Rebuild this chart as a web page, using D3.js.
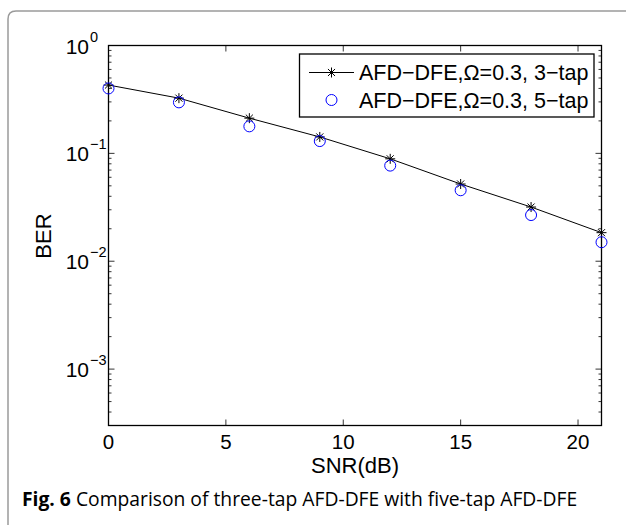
<!DOCTYPE html>
<html>
<head>
<meta charset="utf-8">
<script src="https://cdn.jsdelivr.net/npm/d3@7"></script>
<style>
  body { margin: 0; background: #fff; }
  svg text { font-family: "Liberation Sans", Arial, Helvetica, sans-serif; }
</style>
</head>
<body>
<svg id="fig" width="626" height="525"></svg>
<script>
// data
var snr = [0, 3, 6, 9, 12, 15, 18, 21];
var ber3tap = [0.43, 0.325, 0.212, 0.142, 0.089, 0.052, 0.0318, 0.0184];
var ber5tap = [0.40, 0.297, 0.178, 0.130, 0.077, 0.0455, 0.0268, 0.0150];
var xTicks = [0, 5, 10, 15, 20];
var yDecades = [-3, -2, -1, 0];
var legendLabels = ["AFD\u2212DFE,\u03A9=0.3, 3\u2212tap", "AFD\u2212DFE,\u03A9=0.3, 5\u2212tap"];

var svg = d3.select("#fig");

// outer frame of the figure panel
svg.append("path")
  .attr("d", "M8,530 L8,19 Q8,11 16,11 L640,11")
  .attr("fill", "none")
  .attr("stroke", "#9a9a9a")
  .attr("stroke-width", 1.5);

var pLeft = 108.5, pRight = 601.5, pTop = 45.5, pBottom = 425.5;

var x = d3.scaleLinear().domain([0, 21]).range([pLeft, pRight]);
var y = d3.scaleLog().domain([3e-4, 1]).range([pBottom, pTop]);

var plot = svg.append("g");

// ticks (inward, both sides)
xTicks.forEach(function (t) {
  plot.append("line").attr("x1", x(t)).attr("x2", x(t)).attr("y1", pBottom).attr("y2", pBottom - 6)
    .attr("stroke", "#000").attr("stroke-width", 0.8);
  plot.append("line").attr("x1", x(t)).attr("x2", x(t)).attr("y1", pTop).attr("y2", pTop + 6)
    .attr("stroke", "#000").attr("stroke-width", 0.8);
  plot.append("text").attr("x", x(t)).attr("y", pBottom + 23)
    .attr("text-anchor", "middle").attr("font-size", 20.5).text(t);
});

var minor = [];
d3.range(-4, 0).forEach(function (d) {
  d3.range(2, 10).forEach(function (m) {
    var v = m * Math.pow(10, d);
    if (v >= 3e-4 && v <= 1) minor.push(v);
  });
});
minor.forEach(function (v) {
  [[pLeft, pLeft + 3], [pRight, pRight - 3]].forEach(function (p) {
    plot.append("line").attr("x1", p[0]).attr("x2", p[1]).attr("y1", y(v)).attr("y2", y(v))
      .attr("stroke", "#000").attr("stroke-width", 0.8);
  });
});
yDecades.forEach(function (d) {
  var v = Math.pow(10, d);
  [[pLeft, pLeft + 6], [pRight, pRight - 6]].forEach(function (p) {
    plot.append("line").attr("x1", p[0]).attr("x2", p[1]).attr("y1", y(v)).attr("y2", y(v))
      .attr("stroke", "#000").attr("stroke-width", 0.8);
  });
  // "10" ends where the exponent starts
  plot.append("text").attr("x", 89).attr("y", y(v) + 8)
    .attr("text-anchor", "end").attr("font-size", 21).text("10");
  plot.append("text").attr("x", 90).attr("y", y(v) - 4)
    .attr("font-size", 14.5).text(d === 0 ? "0" : "\u2212" + (-d));
});

// axes box
plot.append("rect").attr("x", pLeft).attr("y", pTop).attr("width", pRight - pLeft).attr("height", pBottom - pTop)
  .attr("fill", "none").attr("stroke", "#000").attr("stroke-width", 1.3);

// axis labels
svg.append("text").attr("x", (pLeft + pRight) / 2).attr("y", 473)
  .attr("text-anchor", "middle").attr("font-size", 22).text("SNR(dB)");
svg.append("text").attr("transform", "translate(51,236) rotate(-90)")
  .attr("text-anchor", "middle").attr("font-size", 22).text("BER");

// series
var line = d3.line().x(function (d, i) { return x(snr[i]); }).y(function (d) { return y(d); });
plot.append("path").datum(ber3tap).attr("d", line)
  .attr("fill", "none").attr("stroke", "#000").attr("stroke-width", 1);

function star(g, cx, cy) {
  var r = 5, s = r * Math.SQRT1_2;
  g.append("path")
    .attr("d", "M" + (cx - r) + "," + cy + "H" + (cx + r) + "M" + cx + "," + (cy - r) + "V" + (cy + r) +
      "M" + (cx - s) + "," + (cy - s) + "L" + (cx + s) + "," + (cy + s) +
      "M" + (cx - s) + "," + (cy + s) + "L" + (cx + s) + "," + (cy - s))
    .attr("stroke", "#000").attr("stroke-width", 1).attr("fill", "none");
}
ber3tap.forEach(function (d, i) { star(plot, x(snr[i]), y(d)); });

plot.selectAll("circle.tap5").data(ber5tap).enter().append("circle")
  .attr("class", "tap5")
  .attr("cx", function (d, i) { return x(snr[i]); })
  .attr("cy", function (d) { return y(d); })
  .attr("r", 5.5)
  .attr("fill", "none").attr("stroke", "#0000ff").attr("stroke-width", 1);

// legend
var lg = svg.append("g");
lg.append("rect").attr("x", 299.5).attr("y", 54).attr("width", 294.5).attr("height", 63)
  .attr("fill", "#fff").attr("stroke", "#000").attr("stroke-width", 1.3);
lg.append("line").attr("x1", 309).attr("x2", 354).attr("y1", 72.5).attr("y2", 72.5)
  .attr("stroke", "#000").attr("stroke-width", 1);
star(lg, 331.5, 72.5);
lg.append("circle").attr("cx", 331.5).attr("cy", 100).attr("r", 5.5)
  .attr("fill", "none").attr("stroke", "#0000ff").attr("stroke-width", 1);
legendLabels.forEach(function (t, i) {
  lg.append("text").attr("x", 359).attr("y", 80 + i * 27.5).attr("font-size", 21.5).text(t);
});

// caption
var cap = svg.append("text").attr("x", 22).attr("y", 506)
  .attr("font-size", 19.3).style("font-family", "'Open Sans', 'Noto Sans', sans-serif");
cap.append("tspan").attr("font-weight", "bold").text("Fig. 6");
cap.append("tspan").text(" Comparison of three-tap AFD-DFE with five-tap AFD-DFE");
</script>
</body>
</html>
